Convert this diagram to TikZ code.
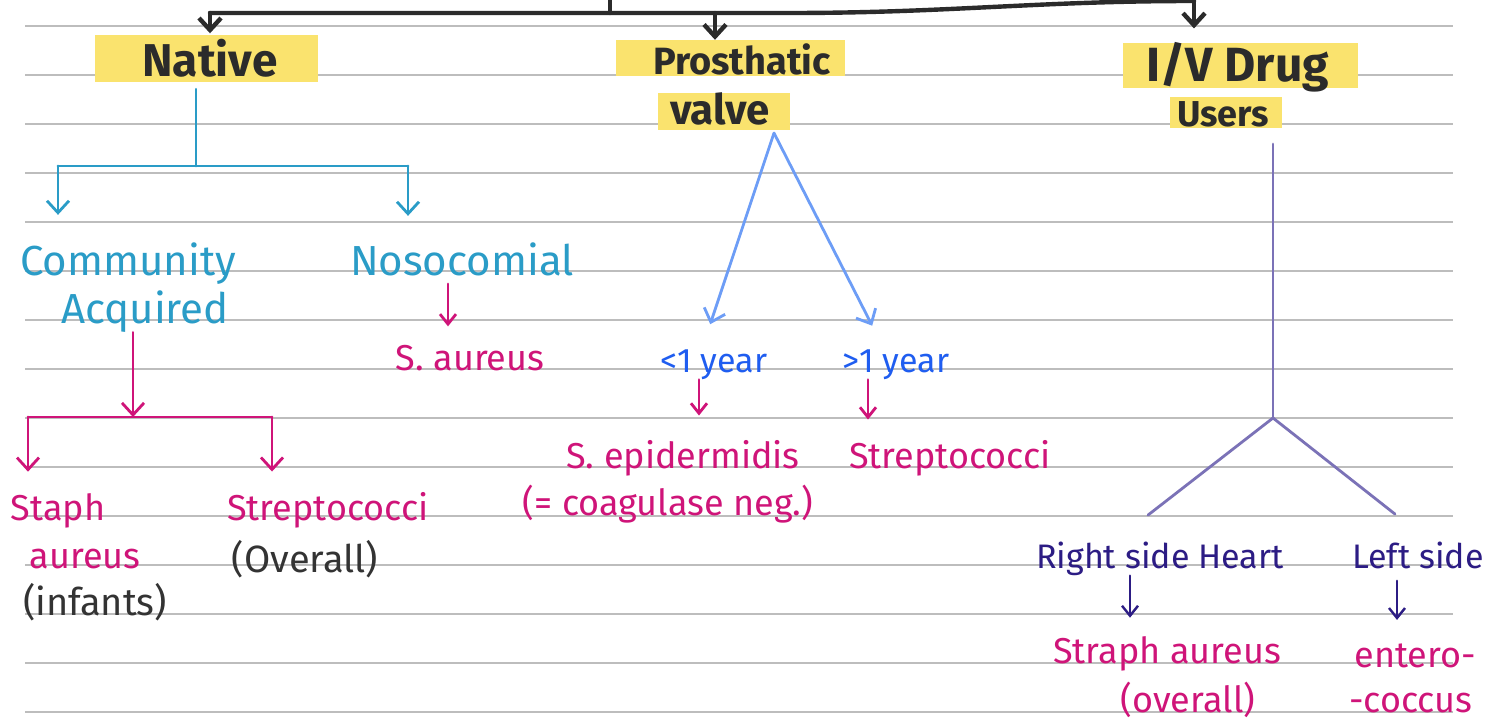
\documentclass[tikz,border=0pt]{standalone}
\usepackage{fontspec}
\setmainfont{Fira Sans}
\usepackage{tikz}
\usetikzlibrary{positioning,arrows.meta}
\definecolor{inkc}{HTML}{2B2B2B}
\definecolor{hlc}{HTML}{FAE36E}
\definecolor{natc}{HTML}{2A9CC7}
\definecolor{orgc}{HTML}{CF1479}
\definecolor{notec}{HTML}{333333}
\definecolor{yrc}{HTML}{1F5DF0}
\definecolor{yrlc}{HTML}{6D9DF6}
\definecolor{sidec}{HTML}{2C1C84}
\definecolor{sidelc}{HTML}{7B72B7}
\definecolor{rulec}{HTML}{BDBDBD}
\newcommand{\fsz}[1]{\fontsize{#1}{#1}\selectfont}
\newcommand{\hdfont}[1]{\fontsize{#1}{#1}\selectfont\bfseries}
\tikzstyle{ruled} = [draw=rulec, line width=0.8pt]
\tikzstyle{hl} = [fill=hlc]
\tikzstyle{head} = [inner sep=0pt, anchor=base, text=inkc]
\tikzstyle{nat} = [inner sep=0pt, anchor=base, text=natc, font=\fsz{21}]
\tikzstyle{org} = [inner sep=0pt, anchor=base, text=orgc, font=\fsz{18}]
\tikzstyle{note} = [inner sep=0pt, anchor=base, text=notec, font=\fsz{19}]
\tikzstyle{yr} = [inner sep=0pt, anchor=base, text=yrc, font=\fsz{17}]
\tikzstyle{side} = [inner sep=0pt, anchor=base, text=sidec, font=\fsz{17}]
\tikzstyle{inkl} = [draw=inkc, line width=2.2pt, line cap=round, line join=round]
\tikzstyle{natl} = [draw=natc, line width=1.4pt, line cap=round]
\tikzstyle{orgl} = [draw=orgc, line width=1.4pt, line cap=round]
\tikzstyle{yrl} = [draw=yrlc, line width=1.4pt, line cap=round]
\tikzstyle{sidel} = [draw=sidelc, line width=1.4pt, line cap=round]
\tikzstyle{sidea} = [draw=sidec, line width=1.2pt, line cap=round]
\tikzstyle{arr} = [->, >={Straight Barb[length=6pt,width=11pt]}]
\tikzstyle{sarr} = [->, >={Straight Barb[length=5pt,width=8pt]}]

\begin{document}
\begin{tikzpicture}[x=0.5pt, y=-0.5pt]
		\fill[white] (0,0) rectangle (1506,722);
		\useasboundingbox (0,0) rectangle (1506,722);
		\foreach \y in {26,75,...,713} \draw[ruled] (25,\y) -- (1453,\y);
		% marker behind the headings
		\fill[hl] (95,35) rectangle (318,82);
		\fill[hl] (616,40) rectangle (845,76);
		\fill[hl] (658,93) rectangle (790,130);
		\fill[hl] (1123,43) rectangle (1358,88);
		\fill[hl] (1170,97) rectangle (1282,128);
		\node[head, font=\hdfont{23}] (native) at (210,77) {Native};
		\node[head, font=\hdfont{19}] (prosth) at (742,75) {Prosthatic};
		\node[head, font=\hdfont{21}] (valve) at (720,125) {valve};
		\node[head, font=\hdfont{24}] (iv) at (1238,82) {I/V Drug};
		\node[head, font=\hdfont{18}] (users) at (1223,127) {Users};
		\node[nat] (comm) at (128,275) {Community};
		\node[nat] (acq) at (145,323) {Acquired};
		\node[nat] (noso) at (462,275) {Nosocomial};
		\node[org] (saur) at (470,370) {S. aureus};
		\node[org] (staph) at (58,520) {Staph};
		\node[org] (aur) at (85,568) {aureus};
		\node[note] (inf) at (95,615) {(infants)};
		\node[org] (strepl) at (328,520) {Streptococci};
		\node[note] (overall) at (305,572) {(Overall)};
		\node[yr] (ylt) at (714,372) {<1 year};
		\node[yr] (ygt) at (896,372) {>1 year};
		\node[org] (sepi) at (683,468) {S. epidermidis};
		\node[org] (coag) at (668,515) {(= coagulase neg.)};
		\node[org] (strepr) at (950,468) {Streptococci};
		\node[side] (rsh) at (1160,568) {Right side Heart};
		\node[side] (lsd) at (1418,568) {Left side};
		\node[org] (strau) at (1167,663) {Straph aureus};
		\node[org] (ovr) at (1188,712) {(overall)};
		\node[org] (ent) at (1415,667) {entero-};
		\node[org] (cocc) at (1411,712) {-coccus};
		\coordinate (top) at (610,0);
		\coordinate (tj) at (610,13);
		\coordinate (tl) at (210,13);
		\coordinate (ta) at (790,13);
		\coordinate (tr) at (1194,1);
		\coordinate (pj) at (715,13);
		\draw[inkl] (top) -- (tj);
		\draw[inkl] (tl) -- (ta) to[out=0, in=180] (tr);
		\draw[inkl, arr, shorten >=3pt] (tl) -- (tl |- native.north);
		\draw[inkl, arr, shorten >=2pt] (pj) -- (pj |- prosth.north);
		\draw[inkl, arr, shorten >=7pt] (tr) -- (tr |- iv.north);
		\coordinate (nj) at (196,166);
		\coordinate (nl) at (58,166);
		\coordinate (nr) at (408,166);
		\draw[natl, shorten <=5.5pt] (native.south -| nj) -- (nj);
		\draw[natl] (nl) -- (nr);
		\draw[natl, arr, shorten >=13.5pt] (nl) -- (nl |- comm.north);
		\draw[natl, arr, shorten >=13pt] (nr) -- (nr |- noso.north);
		\coordinate (cj) at (133,417);
		\coordinate (cl) at (28,417);
		\coordinate (cr) at (272,417);
		\draw[orgl, arr] (acq.south -| cj) -- (cj);
		\draw[orgl] (cl) -- (cr);
		\draw[orgl, arr, shorten >=10.5pt] (cl) -- (cl |- staph.north);
		\draw[orgl, arr, shorten >=10pt] (cr) -- (cr |- strepl.north);
		\draw[orgl, sarr, shorten <=4pt, shorten >=9pt] ([xshift=-7pt]noso.south) -- ([xshift=-11pt]saur.north);
		\coordinate (pa) at (774,133);
		\draw[yrl, arr, shorten >=13pt] (pa) -- ([xshift=-6pt]ylt.north);
		\draw[yrl, arr, shorten >=13pt] (pa) -- ([xshift=-6pt]ygt.north);
		\draw[orgl, sarr, shorten >=12pt] ([xshift=-7.5pt]ylt.south) -- ([xshift=8pt]sepi.north);
		\draw[orgl, sarr, shorten >=10pt] ([xshift=-14pt]ygt.south) -- ([xshift=-41pt]strepr.north);
		\coordinate (vj) at (1273,418);
		\draw[sidel, shorten <=8pt] (users.south -| vj) -- (vj);
		\draw[sidel] (vj) -- ([xshift=-6pt, yshift=13pt]rsh.north);
		\draw[sidel] (vj) -- ([xshift=-11.5pt, yshift=13.5pt]lsd.north);
		\draw[sidea, sarr, shorten >=9pt] ([xshift=-15pt]rsh.south) -- ([xshift=-18.5pt]strau.north);
		\draw[sidea, sarr, shorten <=6pt, shorten >=11.5pt] ([xshift=-10.5pt]lsd.south) -- ([xshift=-9pt]ent.north);
\end{tikzpicture}
\end{document}
